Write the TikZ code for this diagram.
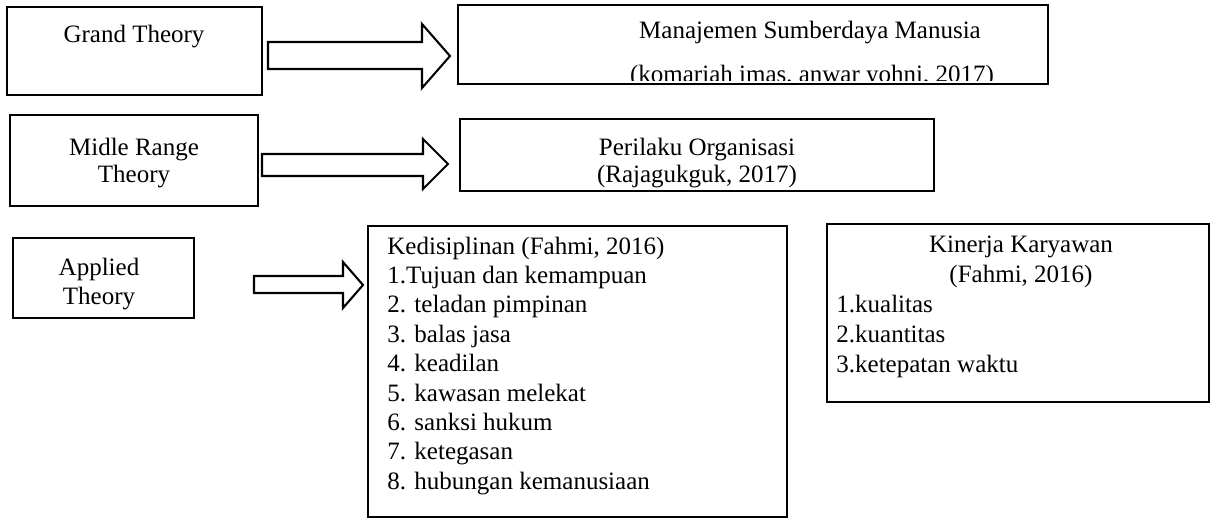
\documentclass[tikz,border=0pt]{standalone}
\usepackage{fontspec}
\setmainfont{Liberation Serif}
\usetikzlibrary{fit}
\begin{document}
\begin{tikzpicture}[x=0.48pt,y=-0.48pt,
  box/.style={draw, line width=1pt, inner sep=0pt},
  txt/.style={font=\fontsize{12}{13.8}\selectfont, inner sep=0pt, anchor=base},
  ltxt/.style={font=\fontsize{12}{13.8}\selectfont, inner sep=0pt, anchor=base west},
  blockarrow/.style={draw, line width=1pt, fill=white, line join=miter}]
\useasboundingbox (0,0) rectangle (1212,519);

% boxes
\node[box, fit={(7,7) (262,95)}] (grand) {};
\node[box, fit={(458,5) (1048,84)}] (msdm) {};
\node[box, fit={(10,115) (258,206)}] (midle) {};
\node[box, fit={(460,119) (934,191)}] (po) {};
\node[box, fit={(13,238) (194,318)}] (applied) {};
\node[box, fit={(368,226) (787,517)}] (disiplin) {};
\node[box, fit={(827,224) (1209,402)}] (kinerja) {};

% block arrows
\draw[blockarrow] (268,42) -- (422,42) -- (422,24) -- (450,56) -- (422,88) -- (422,69) -- (268,69) -- cycle;
\draw[blockarrow] (262,154) -- (423,154) -- (423,139) -- (448,164) -- (423,189) -- (423,176) -- (262,176) -- cycle;
\draw[blockarrow] (254,276) -- (343,276) -- (343,262) -- (363,285) -- (343,308) -- (343,293) -- (254,293) -- cycle;

% texts
\node[txt] (tgrand) at (134,42) {Grand Theory};
\node[txt] (tmsdm1) at (810,38) {Manajemen Sumberdaya Manusia};
\begin{scope}
  \clip (458,5) rectangle (1048,80);
  \node[txt] (tmsdm2) at (812,82) {(komariah imas, anwar yohni, 2017)};
\end{scope}
\node[txt] (tmidle1) at (134,155) {Midle Range};
\node[txt] (tmidle2) at (134,182) {Theory};
\node[txt] (tpo1) at (697,155) {Perilaku Organisasi};
\node[txt] (tpo2) at (697,182) {(Rajagukguk, 2017)};
\node[txt] (tapp1) at (99,275) {Applied};
\node[txt] (tapp2) at (99,304) {Theory};

\foreach \t [count=\i from 0] in {{Kedisiplinan (Fahmi, 2016)},{1.Tujuan dan kemampuan},{2. teladan pimpinan},{3. balas jasa},{4. keadilan},{5. kawasan melekat},{6. sanksi hukum},{7. ketegasan},{8. hubungan kemanusiaan}}
  \node[ltxt] (d\i) at (387,254+29.4*\i) {\t};

\node[txt] (k0) at (1021,252) {Kinerja Karyawan};
\node[txt] (k1) at (1021,282) {(Fahmi, 2016)};
\node[ltxt] (k2) at (836,312) {1.kualitas};
\node[ltxt] (k3) at (836,342) {2.kuantitas};
\node[ltxt] (k4) at (836,372) {3.ketepatan waktu};
\end{tikzpicture}
\end{document}
